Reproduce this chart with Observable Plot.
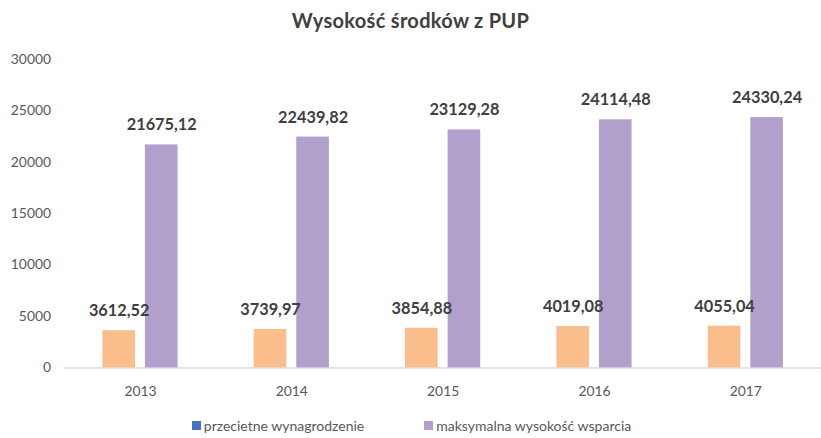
<!DOCTYPE html>
<html>
<head>
<meta charset="utf-8">
<script src="https://cdn.jsdelivr.net/npm/d3@7"></script>
<script src="https://cdn.jsdelivr.net/npm/@observablehq/plot@0.6"></script>
<style>
  html, body { margin: 0; padding: 0; background: #fff; overflow: hidden; width: 821px; height: 438px; }
  body { font-family: Lato, "Open Sans", sans-serif; }
  #title { height: 40px; line-height: 40px; text-align: center; font-weight: bold; font-size: 20px; letter-spacing: 0.3px; color: #404040; }
  #chart { height: 365px; }
  #legend { display: flex; justify-content: center; align-items: center; gap: 60px; padding-left: 2px; margin-top: 7px; font-size: 14px; color: #595959; height: 26px; }
  #legend .item { display: flex; align-items: center; }
  #legend .sw { width: 9px; height: 9px; margin-right: 3px; display: inline-block; }
</style>
</head>
<body>
<div id="title">Wysokość środków z PUP</div>
<div id="chart"></div>
<div id="legend"></div>
<script>
const years = ["2013", "2014", "2015", "2016", "2017"];
const seriesNames = ["przecietne wynagrodzenie", "maksymalna wysokość wsparcia"];
const przecietne = [3612.52, 3739.97, 3854.88, 4019.08, 4055.04];
const maksymalna = [21675.12, 22439.82, 23129.28, 24114.48, 24330.24];
const barColors = ["#f9be8c", "#b1a0cb"];
const legendColors = ["#4472c4", "#b1a0cb"];
const yTicks = [0, 5000, 10000, 15000, 20000, 25000, 30000];

const data = [];
years.forEach((y, i) => {
  data.push({year: y, series: seriesNames[0], value: przecietne[i]});
  data.push({year: y, series: seriesNames[1], value: maksymalna[i]});
});
const fmt = v => v.toFixed(2).replace(".", ",");

const chart = Plot.plot({
  width: 830,
  height: 365,
  marginLeft: 64.5,
  marginRight: 0,
  marginTop: 19,
  marginBottom: 34,
  style: {fontFamily: "Lato, 'Open Sans', sans-serif", fontSize: "14px", color: "#595959", background: "transparent", display: "block"},
  fx: {domain: years, padding: 0, axis: "bottom", tickSize: 0, tickPadding: 18, label: null},
  x: {domain: seriesNames, axis: null, paddingInner: 0.227, paddingOuter: 0.853},
  y: {domain: [0, 30000], ticks: yTicks, tickSize: 0, tickPadding: 14, tickFormat: d => String(d), label: null},
  color: {domain: seriesNames, range: barColors},
  marks: [
    Plot.ruleY([0], {stroke: "#d9d9d9", strokeWidth: 1.5}),
    Plot.barY(data, {fx: "year", x: "series", y: "value", fill: "series"}),
    Plot.text(data, {fx: "year", x: "series", y: "value", text: d => fmt(d.value), dy: -20,
      fontWeight: "bold", fontSize: 16.5, fill: "#404040"})
  ]
});
document.getElementById("chart").appendChild(chart);

const legend = document.getElementById("legend");
seriesNames.forEach((name, i) => {
  const item = document.createElement("div");
  item.className = "item";
  const sw = document.createElement("span");
  sw.className = "sw";
  sw.style.background = legendColors[i];
  const label = document.createElement("span");
  label.textContent = name;
  item.appendChild(sw);
  item.appendChild(label);
  legend.appendChild(item);
});
</script>
</body>
</html>
